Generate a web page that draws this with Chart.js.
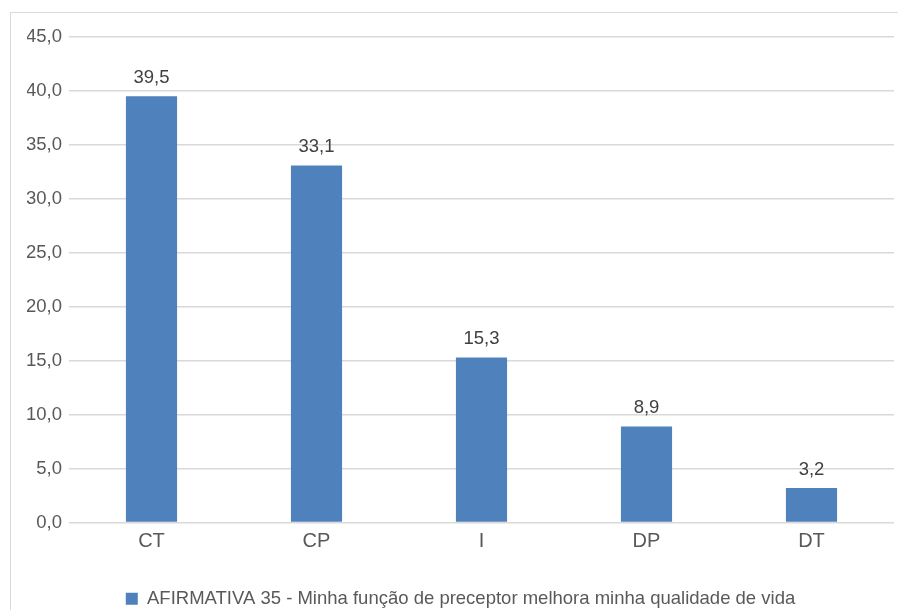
<!DOCTYPE html>
<html>
<head>
<meta charset="utf-8">
<script src="https://cdn.jsdelivr.net/npm/chart.js@4/dist/chart.umd.min.js"></script>
<style>
  html, body { margin: 0; padding: 0; background: #ffffff; }
  #wrap { position: relative; width: 898px; height: 610px; overflow: hidden; }
  #frame { position: absolute; left: 10px; top: 12px; width: 900px; height: 620px; border: 1px solid #d9d9d9; box-sizing: border-box; }
  canvas { position: absolute; left: 0; top: 0; }
</style>
</head>
<body>
<div id="wrap">
  <div id="frame"></div>
  <canvas id="chart" width="898" height="610"></canvas>
</div>
<script>
// Respostas (%) por categoria da escala
const categories = ['CT', 'CP', 'I', 'DP', 'DT'];
const seriesName = 'AFIRMATIVA 35 - Minha função de preceptor melhora minha qualidade de vida';
const values = [39.5, 33.1, 15.3, 8.9, 3.2];
const yTicks = [0, 5, 10, 15, 20, 25, 30, 35, 40, 45];

const FONT = "'Liberation Sans', Arial, sans-serif";
const FSIZE = 18.5;
const TEXT = '#595959';
const fmt = v => Number(v).toFixed(1).replace('.', ',');

// Rótulos de valor acima de cada barra
const valueLabels = {
  id: 'valueLabels',
  afterDatasetsDraw(chart) {
    const ctx = chart.ctx;
    const meta = chart.getDatasetMeta(0);
    ctx.save();
    ctx.font = FSIZE + 'px ' + FONT;
    ctx.fillStyle = '#404040';
    ctx.textAlign = 'center';
    ctx.textBaseline = 'alphabetic';
    meta.data.forEach((bar, i) => {
      ctx.fillText(fmt(chart.data.datasets[0].data[i]), bar.x, bar.y - 13);
    });
    ctx.restore();
  }
};

new Chart(document.getElementById('chart'), {
  type: 'bar',
  data: {
    labels: categories,
    datasets: [{
      label: seriesName,
      data: values,
      backgroundColor: '#4f81bd',
      borderWidth: 0,
      barPercentage: 0.31,
      categoryPercentage: 1
    }]
  },
  options: {
    responsive: false,
    animation: false,
    layout: { padding: { left: 27, right: 4, top: 37, bottom: -8 } },
    plugins: {
      legend: {
        position: 'bottom',
        labels: {
          boxWidth: 12,
          boxHeight: 12,
          color: TEXT,
          font: { family: FONT, size: FSIZE },
          padding: 5
        }
      },
      tooltip: { enabled: false }
    },
    scales: {
      x: {
        grid: { display: false, drawTicks: false },
        border: { display: false },
        afterFit(axis) { axis.height = 62; },
        ticks: { color: TEXT, font: { family: FONT, size: 20 }, padding: 7 }
      },
      y: {
        min: 0,
        max: 45,
        afterBuildTicks(axis) { axis.ticks = yTicks.map(v => ({ value: v })); },
        afterFit(axis) { axis.width = 42; },
        grid: { color: '#d9d9d9', lineWidth: 1.5, drawTicks: false },
        border: { display: false },
        ticks: {
          color: TEXT,
          font: { family: FONT, size: FSIZE },
          padding: 7,
          callback: v => fmt(v)
        }
      }
    }
  },
  plugins: [valueLabels]
});
</script>
</body>
</html>
